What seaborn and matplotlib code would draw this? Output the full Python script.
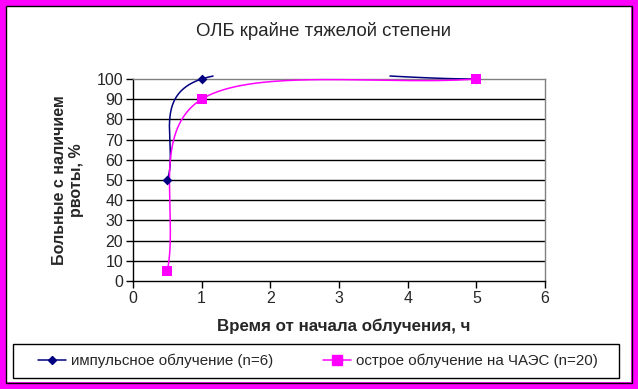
import numpy as np
import pandas as pd
import matplotlib
matplotlib.use('Agg')
import matplotlib.pyplot as plt
from matplotlib.patches import Rectangle
from matplotlib.lines import Line2D
import seaborn as sns

sns.set_style('white')
plt.rcParams['font.family'] = ['Liberation Sans', 'DejaVu Sans']

# данные
hours = [0.5, 1, 5]
impuls = [50, 100, 100]
chaes = [5, 90, 100]
names = ['импульсное облучение (n=6)', 'острое облучение на ЧАЭС (n=20)']
colors = ['#000080', '#FF00FF']
markers = ['D', 's']
msizes = [25, 42]


def smooth(xs, ys, n=150):
    # сглаженная линия как в Excel (Безье, натяжение 1/6, на концах 1/3)
    P = np.column_stack([xs, ys]).astype(float)
    out = []
    for i in range(len(P) - 1):
        p0, p1 = P[i], P[i + 1]
        c1 = p0 + ((p1 - p0) / 3 if i == 0 else (P[i + 1] - P[i - 1]) / 6)
        c2 = p1 - ((p1 - p0) / 3 if i + 2 >= len(P) else (P[i + 2] - P[i]) / 6)
        t = np.linspace(0, 1, n)[:, None]
        out.append((1 - t) ** 3 * p0 + 3 * (1 - t) ** 2 * t * c1
                   + 3 * (1 - t) * t ** 2 * c2 + t ** 3 * p1)
    b = np.vstack(out)
    return b[:, 0], b[:, 1]


fig = plt.figure(figsize=(6.38, 3.89), dpi=100)
ax = fig.add_axes([133 / 638, 1 - 281 / 389, 412 / 638, 202 / 389])

for k, (ys, c, m, s) in enumerate(zip([impuls, chaes], colors, markers, msizes)):
    sx, sy = smooth(hours, ys)
    if k == 0:
        # выброс выше области построения виден только чуть-чуть
        seg = np.cumsum(np.r_[0, np.diff((sy > 101.5).astype(int)) != 0])
        keep = sy <= 101.5
    else:
        sy = np.minimum(sy, 100)
        seg = np.zeros(len(sy), int)
        keep = np.ones(len(sy), bool)
    df = pd.DataFrame({'x': sx, 'y': sy, 'seg': seg})[keep]
    for _, part in df.groupby('seg'):
        sns.lineplot(data=part, x='x', y='y', sort=False, color=c, lw=1.1, ax=ax,
                     clip_on=False, zorder=3)
    pts = pd.DataFrame({'x': hours, 'y': ys})
    sns.scatterplot(data=pts, x='x', y='y', marker=m, s=s, color=c,
                    edgecolor=c, linewidth=0, ax=ax, zorder=4, clip_on=False)

ax.set_xlim(0, 6)
ax.set_ylim(0, 100)
ax.set_xticks(range(0, 7))
ax.set_yticks(range(0, 101, 10))
for yv in range(10, 100, 10):
    ax.axhline(yv, color='black', lw=1, zorder=1)
for side in ['left', 'bottom']:
    ax.spines[side].set_color('black')
    ax.spines[side].set_linewidth(1)
for side in ['top', 'right']:
    ax.spines[side].set_color('#808080')
    ax.spines[side].set_linewidth(1)
ax.tick_params(axis='both', direction='out', length=5, width=1, color='black',
               labelsize=11.5, pad=2, left=True, bottom=True)
ax.set_xlabel('Время от начала облучения, ч', fontsize=12.2, fontweight='bold')
ax.set_ylabel('Больные с наличием\nрвоты, %', fontsize=11.5, fontweight='bold', labelpad=9)
ax.xaxis.set_label_coords((344 - 133) / 412, -(319 - 281) / 202)
fig.text(323 / 638, 1 - 31 / 389, 'ОЛБ крайне тяжелой степени', ha='center', va='center',
         fontsize=13.4)

# легенда
handles = [Line2D([], [], color=c, marker=m, markersize=ms, lw=1.1)
           for c, m, ms in zip(colors, markers, [4, 6.5])]
leg = fig.legend(handles, names, loc='center', bbox_to_anchor=(318 / 638, 1 - 361 / 389),
                 ncol=2, frameon=False, fontsize=10.9,
                 handlelength=1.85, handletextpad=0.3, columnspacing=3.3,
                 borderpad=0.5, borderaxespad=0)
fig.patches.append(Rectangle((13 / 638, 1 - 378 / 389), 606 / 638, 34 / 389,
                             transform=fig.transFigure, fill=False, edgecolor='black', lw=1))

# рамка
fig.patches.append(Rectangle((0, 0), 1, 1, transform=fig.transFigure, fill=False,
                             edgecolor='#FF00FF', lw=10))
fig.patches.append(Rectangle((6 / 638, 6 / 389), 626 / 638, 377 / 389, transform=fig.transFigure,
                             fill=False, edgecolor='black', lw=1))

fig.savefig('out.png', dpi=100)
